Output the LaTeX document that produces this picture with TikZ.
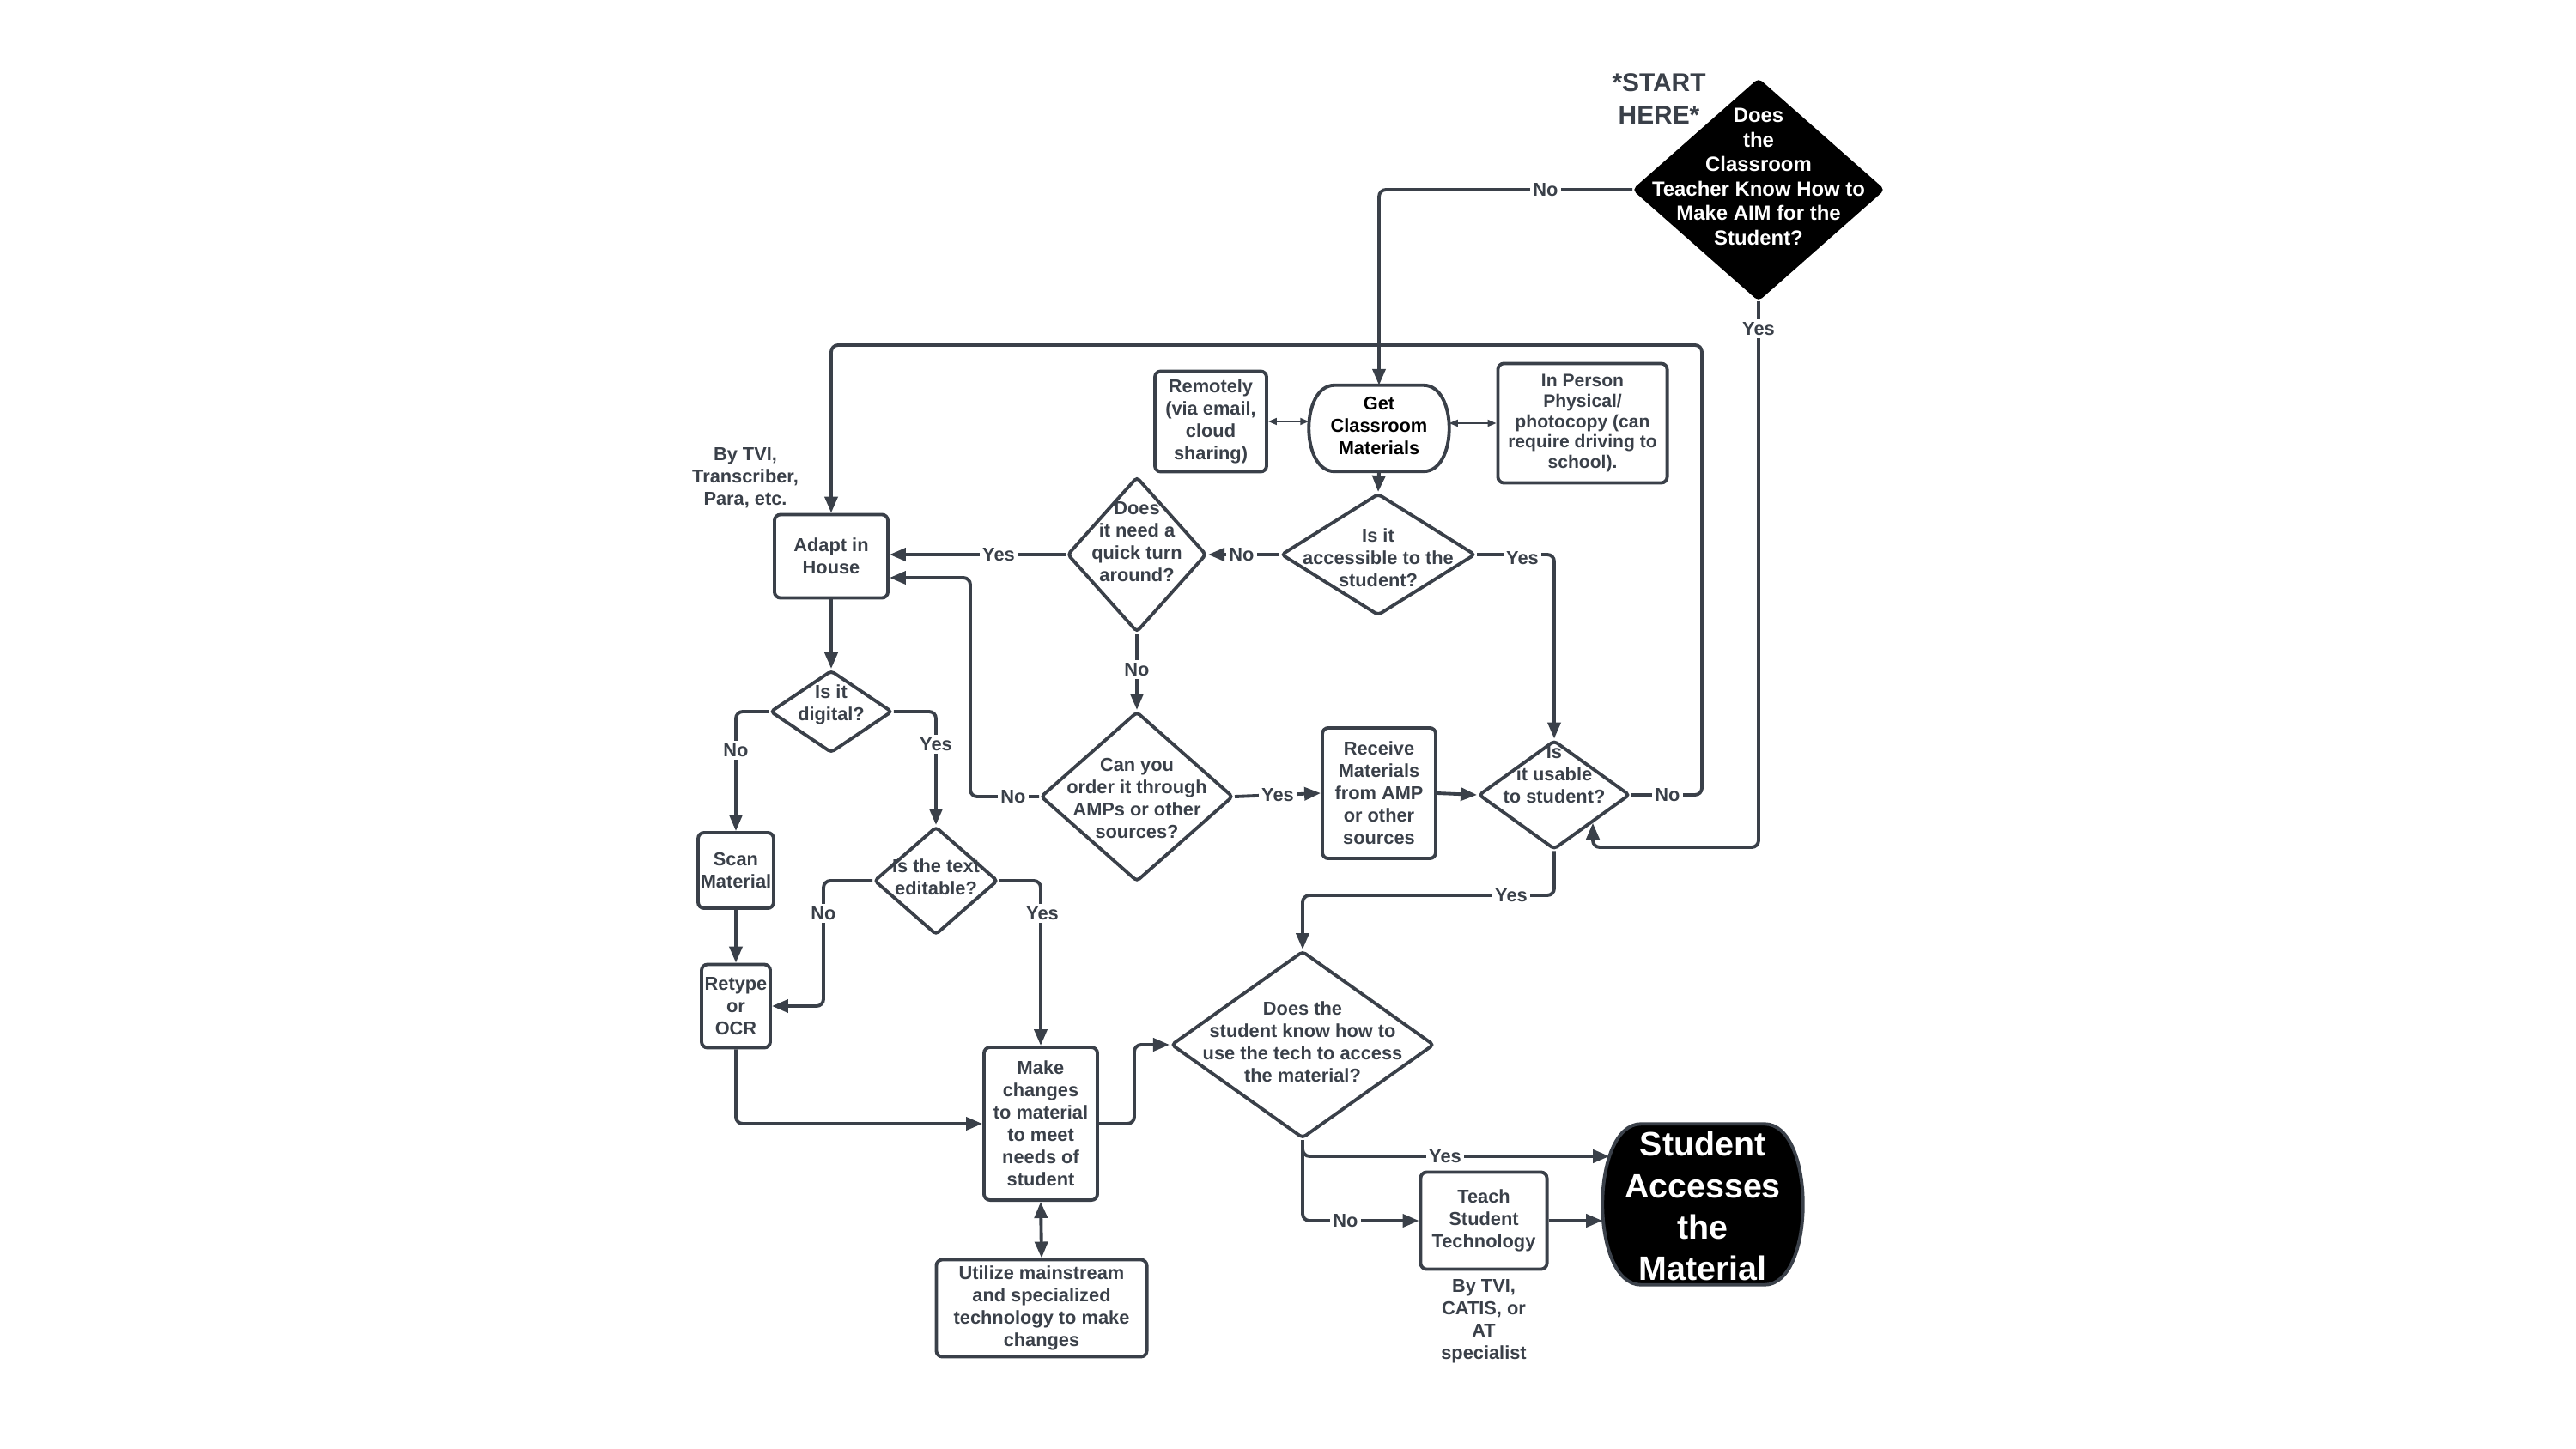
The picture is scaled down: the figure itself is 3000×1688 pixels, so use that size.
\documentclass[tikz,border=0pt]{standalone}
\usepackage{fontspec}
\setmainfont{Liberation Sans}
\usetikzlibrary{shapes.geometric,arrows.meta,calc}
\definecolor{ink}{HTML}{3A4049}
\newcommand{\stadiumpath}[2]{([xshift=#2]#1.north west) -- ([xshift=-#2]#1.north east) .. controls ([xshift=#2/3]#1.north east) and ([xshift=#2/3]#1.south east) .. ([xshift=-#2]#1.south east) -- ([xshift=#2]#1.south west) .. controls ([xshift=-#2/3]#1.south west) and ([xshift=-#2/3]#1.north west) .. cycle}
\begin{document}
\begin{tikzpicture}[x=0.01cm,y=-0.01cm,
 every node/.style={font=\bfseries\fontsize{6.2}{7.4}\selectfont, text=ink, align=center, inner sep=0pt},
 box/.style={draw=ink, line width=1.1pt, rounded corners=0.07cm, rectangle},
 dia/.style={draw=ink, line width=1.1pt, diamond, rounded corners=0.04cm},
 arr/.style={draw=ink, line width=1.1pt, rounded corners=0.08cm, -{Triangle[length=0.19cm,width=0.15cm]}},
 thinarr/.style={draw=ink, line width=0.5pt, {Triangle[length=0.1cm,width=0.08cm]}-{Triangle[length=0.1cm,width=0.08cm]}},
 dbl/.style={draw=ink, line width=1.1pt, {Triangle[length=0.19cm,width=0.15cm]}-{Triangle[length=0.19cm,width=0.15cm]}},
 lbl/.style={fill=white, inner sep=1pt},
]
\useasboundingbox (0,0) rectangle (3000,1688);

% start
\node[dia, fill=black, draw=black, minimum width=2.9cm, minimum height=2.56cm] (start) at (2048,221) {};
\node[text=white, font=\bfseries\fontsize{6.8}{8.1}\selectfont] (startt) at (2048,206) {Does\\the\\Classroom\\Teacher Know How to\\Make AIM for the\\Student?};
\node[font=\bfseries\fontsize{8.5}{10.9}\selectfont] (starthere) at (1932,115) {*START\\HERE*};

% get classroom materials
\node[minimum width=1.62cm, minimum height=0.99cm] (get) at (1606,499) {};
\draw[draw=ink, line width=1.1pt] \stadiumpath{get}{0.3cm};
\node[text=black] (gett) at (1606,496) {Get\\Classroom\\Materials};

\node[box, minimum width=1.30cm, minimum height=1.17cm] (remote) at (1410,491) {Remotely\\(via email,\\cloud\\sharing)};
\node[box, minimum width=1.97cm, minimum height=1.39cm, font=\bfseries\fontsize{6}{6.8}\selectfont] (inperson) at (1843,493) {In Person\\Physical/\\photocopy (can\\require driving to\\school).};

% diamonds
\node[dia, minimum width=2.26cm, minimum height=1.42cm] (access) at (1605,646) {};
\node (accesst) at (1605,650) {Is it\\accessible to the\\student?};
\node[dia, minimum width=1.62cm, minimum height=1.81cm] (quick) at (1324,646) {};
\node (quickt) at (1324,631) {Does\\it need a\\quick turn\\around?};
\node[dia, minimum width=2.24cm, minimum height=1.98cm] (order) at (1324,928) {};
\node (ordert) at (1324,930) {Can you\\order it through\\AMPs or other\\sources?};
\node[dia, minimum width=1.76cm, minimum height=1.27cm] (usable) at (1810,926) {};
\node (usablet) at (1810,902) {Is\\it usable\\to student?};
\node[dia, minimum width=1.42cm, minimum height=0.96cm] (digital) at (968,829) {};
\node (digitalt) at (968,821) {Is it\\digital?};
\node[dia, minimum width=1.44cm, minimum height=1.26cm] (edit) at (1090,1026) {};
\node (editt) at (1090,1022) {Is the text\\editable?};
\node[dia, minimum width=3.06cm, minimum height=2.18cm] (know) at (1517,1217) {};
\node (knowt) at (1517,1214) {Does the\\student know how to\\use the tech to access\\the material?};

% boxes
\node[box, minimum width=1.32cm, minimum height=0.97cm] (adapt) at (968,648) {Adapt in\\House};
\node (bytvi) at (868,557) {By TVI,\\Transcriber,\\Para, etc.};
\node[box, minimum width=1.32cm, minimum height=1.52cm] (receive) at (1606,924) {Receive\\Materials\\from AMP\\or other\\sources};
\node[box, minimum width=0.88cm, minimum height=0.88cm] (scan) at (857,1014) {Scan\\Material};
\node[box, minimum width=0.80cm, minimum height=0.97cm] (retype) at (857,1172) {Retype\\or\\OCR};
\node[box, minimum width=1.32cm, minimum height=1.78cm] (make) at (1212,1309) {Make\\changes\\to material\\to meet\\needs of\\student};
\node[box, minimum width=2.45cm, minimum height=1.13cm] (utilize) at (1213,1524) {Utilize mainstream\\and specialized\\technology to make\\changes};
\node[box, minimum width=1.47cm, minimum height=1.13cm] (teach) at (1728,1422) {Teach\\Student\\Technology};
\node (bytvi2) at (1728,1539) {By TVI,\\CATIS, or\\AT\\specialist};

% final
\node[minimum width=2.32cm, minimum height=1.86cm] (final) at (1983,1403) {};
\filldraw[fill=black, draw=ink, line width=1.1pt] \stadiumpath{final}{0.45cm};
\node[text=white, font=\bfseries\fontsize{11.2}{13.7}\selectfont] (finalt) at (1983,1405) {Student\\Accesses\\the\\Material};

% connectors
\draw[arr] (start.west) -| (get.north);
\draw[arr] (start.south) -- (2048,987) -| (usable.south east);
\draw[arr] (get.south) -- (access.north);
\draw[thinarr] (remote.east) -- (remote.east -| get.west);
\draw[thinarr] (get.east |- inperson.west) -- (inperson.west);
\draw[arr] (access.west) -- (quick.east);
\draw[arr] (access.east) -| (usable.north);
\draw[arr] (quick.west) -- (quick.west -| adapt.east);
\draw[arr] (quick.south) -- (order.north);
\draw[arr] (order.west) -| (1130,800) |- ([yshift=-0.25cm]adapt.east);
\draw[arr] (order.east) -- (receive.west);
\draw[arr] (receive.east) -- (usable.west);
\draw[arr] (usable.east) -| (1982,402) -| (adapt.north);
\draw[arr] (usable.south) |- (1600,1043) -| (know.north);
\draw[arr] (adapt.south) -- (digital.north);
\draw[arr] (digital.west) -| (scan.north);
\draw[arr] (digital.east) -| (edit.north);
\draw[arr] (scan.south) -- (retype.north);
\draw[arr] (edit.west) -| (959,1100) |- (retype.east);
\draw[arr] (edit.east) -| (make.north);
\draw[arr] (retype.south) |- (make.west);
\draw[arr] (make.east) -| (1321,1260) |- (know.west);
\draw[dbl] (make.south) -- (utilize.north);
\draw[arr] (know.south) |- ([shift={(0.08cm,0.56cm)}]final.west);
\draw[arr] (know.south) |- (teach.west);
\draw[arr] (teach.east) -- (teach.east -| final.west);

% labels
\node[lbl] (l1) at (1800,221) {No};
\node[lbl] (l2) at (2048,383) {Yes};
\node[lbl] (l3) at (1446,646) {No};
\node[lbl] (l4) at (1773,650) {Yes};
\node[lbl] (l5) at (1163,646) {Yes};
\node[lbl] (l6) at (1324,780) {No};
\node[lbl] (l7) at (1180,928) {No};
\node[lbl] (l8) at (1488,926) {Yes};
\node[lbl] (l9) at (1942,926) {No};
\node[lbl] (l10) at (1760,1043) {Yes};
\node[lbl] (l11) at (857,874) {No};
\node[lbl] (l12) at (1090,867) {Yes};
\node[lbl] (l13) at (959,1064) {No};
\node[lbl] (l14) at (1214,1064) {Yes};
\node[lbl] (l15) at (1683,1347) {Yes};
\node[lbl] (l16) at (1567,1422) {No};
\end{tikzpicture}
\end{document}
